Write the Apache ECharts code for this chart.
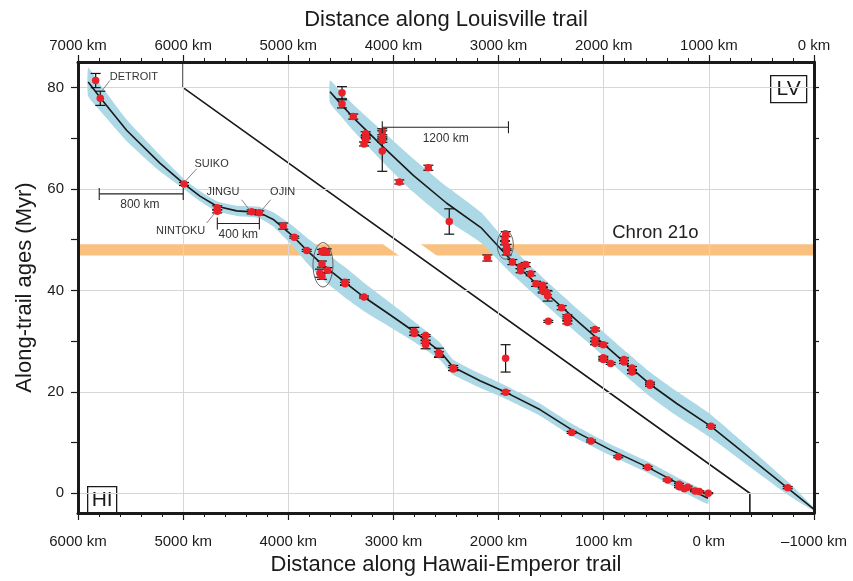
<!DOCTYPE html>
<html><head><meta charset="utf-8">
<script src="https://cdn.jsdelivr.net/npm/echarts@6/dist/echarts.min.js"></script>
<style>html,body{margin:0;padding:0;background:#fff}#c{width:853px;height:581px}</style>
</head><body><div id="c"></div>
<script>
// ---------- DATA ----------
// Hawaii-Emperor seamounts: distance along trail (km), age (Myr), 1-sigma error (Myr)
const hiDist = [5832,5788,4992,4676,4676,4348,4276,4048,3943,3825,3680,3635,3660,3680,3626,3699,3680,3461,3461,3280,2802,2802,2694,2694,2694,2567,2567,2431,2431,1933,1933,1305,1121,862,582,392,284,284,234,202,132,91,6];
const hiAge  = [81.4,77.9,61.0,56.3,55.6,55.5,55.3,52.7,50.5,47.9,47.6,47.6,47.9,45.2,44.0,43.4,42.8,41.6,41.3,38.7,31.9,31.5,31.1,29.9,29.3,27.7,27.4,24.7,24.5,19.9,26.6,12.0,10.3,7.2,5.1,2.6,1.75,1.3,0.9,1.2,0.45,0.33,0];
const hiErr  = [1.4,1.4,0.3,0.4,0.3,0.4,0.4,0.6,0.2,0.2,0.5,0.6,0.3,0.6,0.5,0.8,0.6,0.5,0.3,0.2,0.8,0.3,0.2,0.3,0.8,0.9,0.5,0.5,0.3,0.3,2.7,0.2,0.2,0.2,0.2,0.2,0.2,0.2,0.2,0.2,0.15,0.15,0.1];
// Louisville seamounts
const lvDist = [4489,4489,4382,4264,4261,4264,4280,4106,4106,4106,4106,3944,3668,3469,3107,2932,2939,2939,2923,2923,2869,2790,2790,2742,2694,2644,2580,2580,2580,2542,2533,2527,2400,2346,2346,2346,2083,2083,2083,2004,2004,2004,1934,1807,1807,1731,1731,1560,1560,980,250];
const lvAge  = [79.0,76.8,74.3,70.9,70.3,69.7,68.9,71.3,70.0,69.6,67.5,61.4,64.2,53.6,46.4,51.1,50.2,49.4,48.5,47.6,45.6,44.7,43.9,45.1,43.3,41.3,41.0,40.2,39.9,39.6,38.9,33.9,36.6,34.8,34.4,33.7,32.3,30.3,29.6,29.3,26.7,26.4,25.6,26.4,25.9,24.7,23.9,21.7,21.3,13.2,1.1];
const lvErr  = [1.2,0.8,0.5,0.4,0.4,0.5,0.4,0.6,0.3,0.4,4.0,0.4,0.5,2.5,0.6,0.5,0.5,0.4,0.6,0.6,0.5,0.4,0.4,0.4,0.4,0.5,0.4,0.5,0.4,0.4,1.0,0.2,0.4,0.4,0.4,0.3,0.3,0.3,0.3,0.3,0.3,0.3,0.2,0.3,0.3,0.3,0.3,0.2,0.2,0.2,0.2];
// model age-distance curves and half-width of their uncertainty envelopes
const hiCurveDist = [5903,5788,5538,5221,4992,4840,4679,4491,4279,4143,3956,3823,3680,3461,3280,3033,2805,2557,2434,2177,1930,1607,1302,940,579,275,9];
const hiCurveAge  = [81.1,78.0,71.6,65.1,61.0,58.6,56.6,55.7,55.4,54.0,50.7,47.9,45.2,41.6,38.7,35.2,31.9,28.0,24.9,22.2,19.9,16.5,12.5,8.6,5.1,1.75,-1.0];
const hiBandHalf  = [2.8,2.6,2.1,1.6,1.0,1.0,1.0,1.0,1.1,1.4,2.0,2.5,2.9,3.0,2.8,2.4,2.0,1.7,1.5,1.4,1.3,1.2,1.2,1.1,1.1,1.1,1.1];
const lvCurveDist = [4603,4489,4382,4118,3811,3493,3168,2891,2542,2226,2092,1781,1560,1306,980,250,5];
const lvCurveAge  = [79.2,76.5,74.1,68.7,62.7,57.2,52.4,46.2,39.4,33.5,31.1,25.4,21.5,17.7,13.2,1.0,-3.1];
const lvBandHalf  = [2.2,2.4,2.6,3.0,3.3,3.3,3.0,2.6,2.4,2.4,2.4,2.4,2.4,2.4,2.3,1.3,0.3];
// reference line (HI distance, age)
const refLineDist = [5000,5000,-390,-390];
const refLineAge  = [85.06,80,0,-3.9];
// Chron 21o age band
const chronBand = [46.9, 49.1];
const chronLabel = 'Chron 21o';
// axis ticks
const hiAxisRange = [-1000, 6000];
const lvAxisRange = [0, 7000];
const ageRange = [-3.9, 85.06];
const ageLabelTicks = [0,20,40,60,80];
const ageMinorTicks = [0,10,20,30,40,50,60,70,80];
const gridDist = [5000,4000,3000,2000,1000,0];
// clusters circled
const hiEllipse = [3670, 45.06, 95, 4.38];
const lvEllipse = [2936, 49.0, 76, 2.82];
// seamount names and leader lines
const smNames = ['DETROIT','SUIKO','JINGU','OJIN','NINTOKU'];
const smText = [[5468,82.2],[4729,65.0],[4621,59.4],[4054,59.4],[5024,51.8]];
const smLeader = [[5697,81.4,5775,79.3],[4871,64.0,4983,61.45],[4444,57.9,4365,55.8],[4168,57.9,4253,55.8],[4776,53.3,4697,55.3]];
// scale bars: [fromDist, toDist, age, label, labelDist, labelAge]
const hiScaleBars = [[5798,4999,59.04,'800 km',5411,57.0],[4675,4275,53.2,'400 km',4476,51.05]];
const lvScaleBars = [[4106,2906,72.2,'1200 km',3503,70.0]];

// ---------- CHART ----------
const FONT = '"Liberation Sans", Arial, Helvetica, sans-serif';
const chart = echarts.init(document.getElementById('c'), null, {renderer: 'canvas'});

function zip(a, b) { return a.map((v, i) => [v, b[i]]); }

function errorSeries(dist, age, err, xi) {
  return {
    type: 'custom', xAxisIndex: xi, yAxisIndex: 0, z: 7, silent: true,
    encode: {x: 0, y: [1, 2]},
    data: dist.map((d, i) => [d, age[i] - err[i], age[i] + err[i]]),
    renderItem: (p, api) => {
      const x = api.value(0);
      const lo = api.coord([x, api.value(1)]);
      const hi = api.coord([x, api.value(2)]);
      const hw = 5, st = {stroke: '#111', lineWidth: 1.2};
      return {type: 'group', children: [
        {type: 'line', shape: {x1: lo[0], y1: lo[1], x2: hi[0], y2: hi[1]}, style: st},
        {type: 'line', shape: {x1: lo[0] - hw, y1: lo[1], x2: lo[0] + hw, y2: lo[1]}, style: st},
        {type: 'line', shape: {x1: hi[0] - hw, y1: hi[1], x2: hi[0] + hw, y2: hi[1]}, style: st}
      ]};
    }
  };
}

function bandSeries(dist, age, half, xi) {
  return {
    type: 'custom', xAxisIndex: xi, yAxisIndex: 0, z: 5, silent: true,
    data: [[dist[0], age[0]]],
    renderItem: (p, api) => {
      const pts = [];
      for (let i = 0; i < dist.length; i++) pts.push(api.coord([dist[i], age[i] + half[i]]));
      for (let i = dist.length - 1; i >= 0; i--) pts.push(api.coord([dist[i], age[i] - half[i]]));
      return {type: 'polygon', shape: {points: pts, smooth: 0.15}, style: {fill: '#add8e6'}};
    }
  };
}

function curveSeries(dist, age, xi) {
  return {
    type: 'line', xAxisIndex: xi, yAxisIndex: 0, z: 6, silent: true,
    data: zip(dist, age), showSymbol: false, symbol: 'none',
    smooth: false,
    lineStyle: {color: '#1a1a1a', width: 1.6, join: 'round'}
  };
}

function pointSeries(dist, age, xi) {
  return {
    type: 'scatter', xAxisIndex: xi, yAxisIndex: 0, z: 8, silent: true,
    data: zip(dist, age), symbol: 'circle', symbolSize: 7.5,
    itemStyle: {color: '#ea2129', opacity: 1}
  };
}

function ellipseSeries(e, xi) {
  return {
    type: 'custom', xAxisIndex: xi, yAxisIndex: 0, z: 9, silent: true,
    data: [e],
    renderItem: (p, api) => {
      const c = api.coord([api.value(0), api.value(1)]);
      const s = api.size([api.value(2), api.value(3)]);
      return {type: 'ellipse', shape: {cx: c[0], cy: c[1], rx: s[0], ry: s[1]},
        style: {fill: 'none', stroke: '#555', lineWidth: 0.9}};
    }
  };
}

function scaleBarSeries(bars, xi) {
  return {
    type: 'custom', xAxisIndex: xi, yAxisIndex: 0, z: 9, silent: true,
    data: bars.map(b => [b[0], b[2], b[1], b[4], b[5]]),
    renderItem: (p, api) => {
      const b = bars[p.dataIndex];
      const a = api.coord([b[0], b[2]]);
      const c = api.coord([b[1], b[2]]);
      const t = api.coord([b[4], b[5]]);
      const st = {stroke: '#222', lineWidth: 1.1};
      return {type: 'group', children: [
        {type: 'line', shape: {x1: a[0], y1: a[1], x2: c[0], y2: c[1]}, style: st},
        {type: 'line', shape: {x1: a[0], y1: a[1] - 6, x2: a[0], y2: a[1] + 6}, style: st},
        {type: 'line', shape: {x1: c[0], y1: c[1] - 6, x2: c[0], y2: c[1] + 6}, style: st},
        {type: 'text', x: t[0], y: t[1], style: {text: b[3], fill: '#333', font: '12px ' + FONT, align: 'center', verticalAlign: 'middle'}}
      ]};
    }
  };
}

const nameSeries = {
  type: 'custom', xAxisIndex: 0, yAxisIndex: 0, z: 9, silent: true,
  data: smText,
  renderItem: (p, api) => {
    const i = p.dataIndex;
    const t = api.coord(smText[i]);
    const l = smLeader[i];
    const a = api.coord([l[0], l[1]]);
    const b = api.coord([l[2], l[3]]);
    return {type: 'group', children: [
      {type: 'line', shape: {x1: a[0], y1: a[1], x2: b[0], y2: b[1]}, style: {stroke: '#777', lineWidth: 0.9}},
      {type: 'text', x: t[0], y: t[1], style: {text: smNames[i], fill: '#333', font: '11px ' + FONT, align: 'center', verticalAlign: 'middle'}}
    ]};
  }
};

const gridLineSeries = {
  type: 'line', xAxisIndex: 0, yAxisIndex: 0, z: 1, silent: true, data: [],
  markLine: {
    silent: true, symbol: 'none', label: {show: false}, animation: false,
    lineStyle: {color: '#d6d6d6', width: 1, type: 'solid'},
    data: ageLabelTicks.map(v => ({yAxis: v})).concat(gridDist.map(v => ({xAxis: v})))
  }
};

const chronSeries = {
  type: 'line', xAxisIndex: 0, yAxisIndex: 0, z: 2, silent: true, data: [],
  markArea: {
    silent: true, animation: false,
    itemStyle: {color: '#fac080', opacity: 1},
    label: {show: false},
    data: [[{yAxis: chronBand[0]}, {yAxis: chronBand[1]}]]
  }
};

const refHalo = {
  type: 'line', xAxisIndex: 0, yAxisIndex: 0, z: 3, silent: true,
  data: zip(refLineDist, refLineAge), symbol: 'none',
  lineStyle: {color: '#ffffff', width: 22, cap: 'butt', join: 'miter'}
};
const refLine = {
  type: 'line', xAxisIndex: 0, yAxisIndex: 0, z: 4, silent: true,
  data: zip(refLineDist, refLineAge), symbol: 'none',
  lineStyle: {color: '#1a1a1a', width: 1.6}
};

const chronText = {
  type: 'custom', xAxisIndex: 0, yAxisIndex: 0, z: 9, silent: true,
  data: [[508, 51.4]],
  renderItem: (p, api) => {
    const c = api.coord([api.value(0), api.value(1)]);
    return {type: 'text', x: c[0], y: c[1], style: {text: chronLabel, fill: '#222', font: '18.5px ' + FONT, align: 'center', verticalAlign: 'middle'}};
  }
};

const axisLineStyle = {show: true, onZero: false, lineStyle: {color: '#1a1a1a', width: 3}};
const labelStyle = {color: '#1a1a1a', fontSize: 15, fontFamily: FONT};
const nameStyle = {color: '#1a1a1a', fontSize: 22, fontFamily: FONT};
const kmFmt = v => (v < 0 ? '\u2013' + (-v) : v) + ' km';

const option = {
  animation: false,
  backgroundColor: '#ffffff',
  grid: {left: 78, right: 39, top: 62, bottom: 62, containLabel: false},
  xAxis: [
    {type: 'value', position: 'bottom', inverse: true, min: hiAxisRange[0], max: hiAxisRange[1], interval: 1000, z: 20,
     name: 'Distance along Hawaii-Emperor trail', nameLocation: 'middle', nameGap: 41, nameTextStyle: nameStyle,
     axisLine: axisLineStyle,
     axisTick: {show: true, inside: false, length: 7, lineStyle: {color: '#1a1a1a', width: 1.2}},
     minorTick: {show: true, splitNumber: 5, length: 4, lineStyle: {color: '#1a1a1a', width: 1}},
     axisLabel: Object.assign({margin: 21, formatter: kmFmt}, labelStyle),
     splitLine: {show: false}},
    {type: 'value', position: 'top', inverse: true, min: lvAxisRange[0], max: lvAxisRange[1], interval: 1000, z: 20,
     name: 'Distance along Louisville trail', nameLocation: 'middle', nameGap: 31, nameTextStyle: nameStyle,
     axisLine: axisLineStyle,
     axisTick: {show: true, inside: false, length: 7, lineStyle: {color: '#1a1a1a', width: 1.2}},
     minorTick: {show: true, splitNumber: 5, length: 4, lineStyle: {color: '#1a1a1a', width: 1}},
     axisLabel: Object.assign({margin: 9, formatter: kmFmt}, labelStyle),
     splitLine: {show: false}},
  ],
  yAxis: [
    {type: 'value', position: 'left', min: ageRange[0], max: ageRange[1], z: 20,
     name: 'Along-trail ages (Myr)', nameLocation: 'middle', nameGap: 38, nameTextStyle: nameStyle,
     axisLine: axisLineStyle,
     axisTick: {show: true, inside: false, length: 7, customValues: ageMinorTicks, lineStyle: {color: '#1a1a1a', width: 1.2}},
     axisLabel: Object.assign({margin: 14, customValues: ageLabelTicks}, labelStyle),
     splitLine: {show: false}},
    {type: 'value', position: 'right', min: ageRange[0], max: ageRange[1], z: 20,
     axisLine: axisLineStyle,
     axisTick: {show: true, inside: false, length: 5, customValues: ageMinorTicks, lineStyle: {color: '#1a1a1a', width: 1.2}},
     axisLabel: {show: false},
     splitLine: {show: false}}
  ],
  graphic: [
    {type: 'group', left: 770, top: 75, z: 30, children: [
      {type: 'rect', shape: {x: 0, y: 0, width: 36, height: 27}, style: {fill: '#fff', stroke: '#1a1a1a', lineWidth: 1.3}},
      {type: 'text', x: 18, y: 14, style: {text: 'LV', fill: '#1a1a1a', font: '21px ' + FONT, align: 'center', verticalAlign: 'middle'}}
    ]},
    {type: 'group', left: 87, top: 486, z: 30, children: [
      {type: 'rect', shape: {x: 0, y: 0, width: 29, height: 27}, style: {fill: '#fff', stroke: '#1a1a1a', lineWidth: 1.3}},
      {type: 'text', x: 14.5, y: 14, style: {text: 'HI', fill: '#1a1a1a', font: '21px ' + FONT, align: 'center', verticalAlign: 'middle'}}
    ]}
  ],
  series: [
    gridLineSeries,
    chronSeries,
    refHalo,
    refLine,
    bandSeries(hiCurveDist, hiCurveAge, hiBandHalf, 0),
    bandSeries(lvCurveDist, lvCurveAge, lvBandHalf, 1),
    curveSeries(hiCurveDist, hiCurveAge, 0),
    curveSeries(lvCurveDist, lvCurveAge, 1),
    errorSeries(hiDist, hiAge, hiErr, 0),
    errorSeries(lvDist, lvAge, lvErr, 1),
    pointSeries(hiDist, hiAge, 0),
    pointSeries(lvDist, lvAge, 1),
    ellipseSeries(hiEllipse, 0),
    ellipseSeries(lvEllipse, 1),
    scaleBarSeries(hiScaleBars, 0),
    scaleBarSeries(lvScaleBars, 1),
    nameSeries,
    chronText
  ]
};
chart.setOption(option);
</script>
</body></html>
